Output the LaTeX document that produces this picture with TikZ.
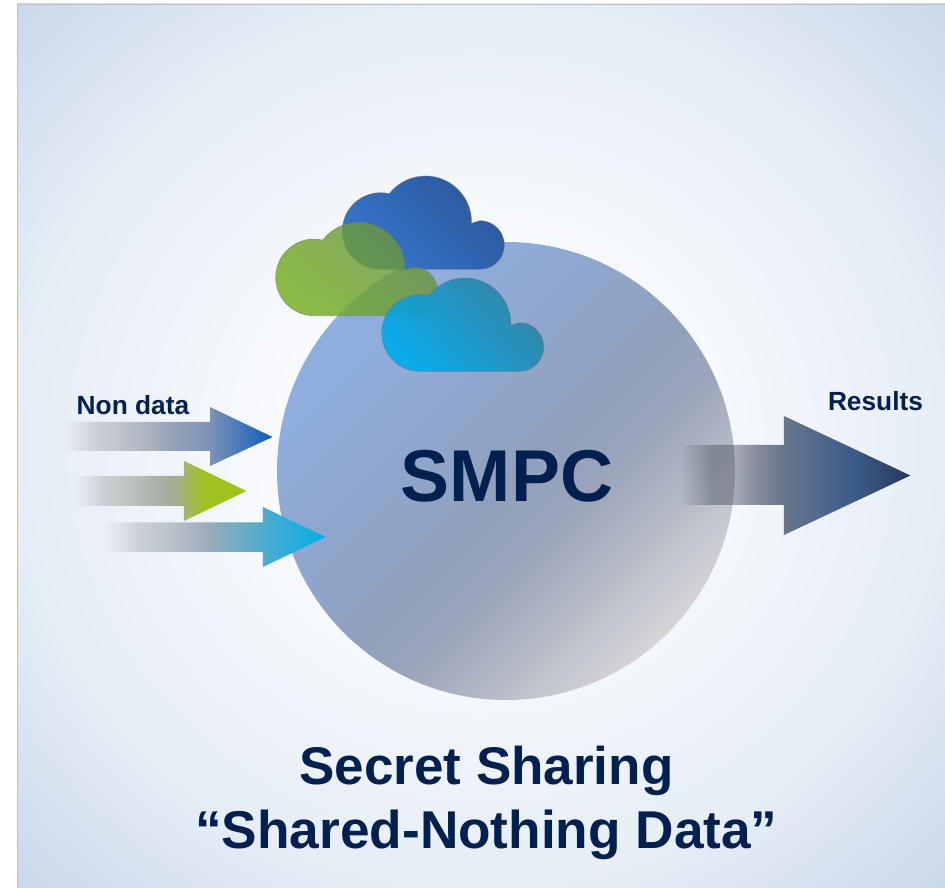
\documentclass[tikz,border=0pt]{standalone}
\usepackage{fontspec}
\setmainfont{Liberation Sans}
\usetikzlibrary{fadings}
\definecolor{ink}{HTML}{002050}
% background
\definecolor{bgA}{HTML}{E6EDF6}
\definecolor{bgB}{HTML}{C9D8EA}
\definecolor{bgW}{HTML}{F8FAFD}
\pgfdeclareradialshading{bgrad}{\pgfpoint{0bp}{0bp}}{
 color(0bp)=(white);
 color(11bp)=(bgW);
 color(25bp)=(bgA);
 color(35.4bp)=(bgB);
 color(50bp)=(bgB)}
% circle
\definecolor{cA}{HTML}{8FAEDE}
\definecolor{cA2}{HTML}{8FA6CB}
\definecolor{cB}{HTML}{8FA0BC}
\definecolor{cB2}{HTML}{9AA5BA}
\definecolor{cC}{HTML}{B5BBC6}
\definecolor{cD}{HTML}{D4D5D7}
\pgfdeclarehorizontalshading{circshade}{100bp}{
 color(0bp)=(cA); color(29bp)=(cA); color(42bp)=(cA2); color(51bp)=(cB); color(58bp)=(cB2); color(66bp)=(cC); color(75bp)=(cD); color(100bp)=(cD)}
% arrow colours
\definecolor{gA}{HTML}{BFC3CA}
\definecolor{gB}{HTML}{A4ABB8}
\definecolor{gC}{HTML}{A0ABB8}
\definecolor{bA}{HTML}{7C93B5}
\definecolor{bB}{HTML}{0F5CC0}
\definecolor{vA}{HTML}{A5AD9F}
\definecolor{vB}{HTML}{9DC31E}
\definecolor{tA}{HTML}{55ACCB}
\definecolor{tB}{HTML}{00AEEA}
\definecolor{rZ}{HTML}{464E5C}
\definecolor{rB}{HTML}{66758D}
\definecolor{rC}{HTML}{3A5A88}
\definecolor{rD}{HTML}{27395A}
\pgfdeclarehorizontalshading{arrA}{100bp}{color(0bp)=(gA); color(25bp)=(gA); color(46bp)=(gB); color(60bp)=(bA); color(75bp)=(bB); color(100bp)=(bB)}
\pgfdeclarehorizontalshading{arrB}{100bp}{color(0bp)=(gA); color(25bp)=(gA); color(53bp)=(vA); color(63bp)=(vB); color(75bp)=(vB); color(100bp)=(vB)}
\pgfdeclarehorizontalshading{arrC}{100bp}{color(0bp)=(gA); color(25bp)=(gA); color(47bp)=(gC); color(60bp)=(tA); color(75bp)=(tB); color(100bp)=(tB)}
\pgfdeclarehorizontalshading{arrD}{100bp}{color(0bp)=(rZ); color(37bp)=(rZ); color(48bp)=(rB); color(63bp)=(rC); color(75bp)=(rD); color(100bp)=(rD)}
% fading: black = transparent, white = opaque
\definecolor{fgA}{gray}{.6}
\definecolor{fgB}{gray}{.45}
\pgfdeclarehorizontalshading{fadeshade}{100bp}{color(0bp)=(black); color(25bp)=(black); color(33bp)=(fgA); color(50bp)=(white); color(100bp)=(white)}
\pgfdeclarefading{leftfade}{\pgfuseshading{fadeshade}}
\pgfdeclarehorizontalshading{rfadeshade}{100bp}{color(0bp)=(black); color(25bp)=(black); color(32bp)=(fgB); color(37bp)=(fgB); color(48bp)=(white); color(100bp)=(white)}
\pgfdeclarefading{rightfade}{\pgfuseshading{rfadeshade}}
% clouds
\definecolor{clA}{HTML}{3675CC}
\definecolor{clB}{HTML}{2B579B}
\definecolor{grA}{HTML}{73AE1E}
\definecolor{grB}{HTML}{6A9148}
\definecolor{cyA}{HTML}{00ABEB}
\definecolor{cyB}{HTML}{2F809F}
\tikzset{
 cloudshape/.style={draw=black!55,draw opacity=.55,line width=.7pt,shade},
 arrowshape/.style={path fading=leftfade,fit fading=true},
 resultshape/.style={path fading=rightfade,fit fading=true},
 labeltext/.style={text=ink,font=\bfseries,inner sep=0pt,anchor=base}
}
\newcommand{\cloudpath}[2]{%
 (#1+38.3,#2) arc (270:76.9:38.3pt) arc (142:-1.6:46pt) -- (#1+137.7,#2+48.6) arc (90:-90:24.3pt) -- cycle}
\begin{document}
\begin{tikzpicture}[x=1pt,y=1pt]
\useasboundingbox (0,0) rectangle (945,887);
% background panel
\shade[shading=bgrad] (17,0) rectangle (945,883);
\draw[color=black!25,line width=.8pt] (17,0) -- (17,883) -- (945,883);
% big circle
\shade[shading=circshade,shading angle=-45] (506,416) circle (229pt);
% arrows
\shade[shading=arrA,arrowshape] (63,436) -- (210,436) -- (210,421) -- (272.5,450) -- (210,480) -- (210,465) -- (63,465) -- cycle;
\shade[shading=arrB,arrowshape] (75,381) -- (184,381) -- (184,366) -- (246.5,396) -- (184,426) -- (184,411) -- (75,411) -- cycle;
\shade[shading=arrC,arrowshape] (103,335) -- (263,335) -- (263,320) -- (325.5,350) -- (263,380) -- (263,364.5) -- (103,364.5) -- cycle;
\shade[shading=arrD,resultshape] (680,382) -- (784,382) -- (784,352) -- (910.5,411.5) -- (784,471) -- (784,442) -- (680,442) -- cycle;
% clouds
\path[cloudshape,top color=clA,bottom color=clB,shading angle=135] \cloudpath{342.3}{617.7};
\path[cloudshape,top color=grA,bottom color=grB,shading angle=135,fill opacity=.82] \cloudpath{275.7}{571.3};
\path[cloudshape,top color=cyA,bottom color=cyB,shading angle=135,fill opacity=.92] \cloudpath{381.7}{515.7};
% texts
\node[labeltext,font=\bfseries\fontsize{73.4pt}{80pt}\selectfont] (smpc) at (507,385) {SMPC};
\node[labeltext,font=\bfseries\fontsize{26.3pt}{30pt}\selectfont] (nondata) at (133,472) {Non data};
\node[labeltext,font=\bfseries\fontsize{26.3pt}{30pt}\selectfont] (results) at (875.5,476) {Results};
\node[labeltext,font=\bfseries\fontsize{53pt}{60pt}\selectfont] (title1) at (486.5,103) {Secret Sharing};
\node[labeltext,font=\bfseries\fontsize{53.2pt}{60pt}\selectfont] (title2) at (486.5,39) {“Shared-Nothing Data”};
\end{tikzpicture}
\end{document}
